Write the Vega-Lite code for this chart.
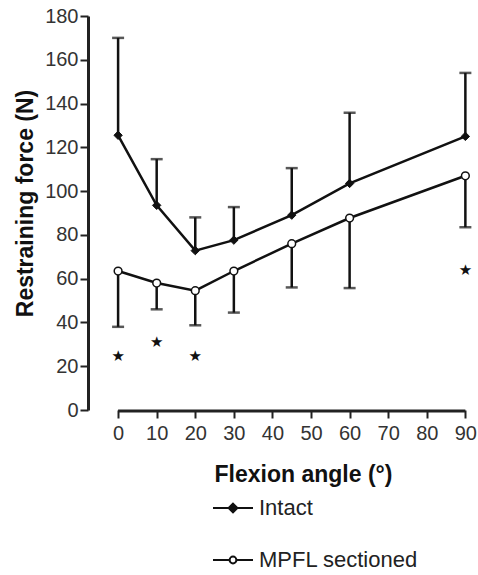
{
  "$schema": "https://vega.github.io/schema/vega-lite/v6.json",
  "autosize": "none",
  "width": 382,
  "height": 394,
  "padding": {"left": 88, "top": 16, "right": 8, "bottom": 165},
  "background": "white",
  "config": {
    "view": {"stroke": null},
    "font": "Liberation Sans",
    "axis": {"grid": false, "labelFont": "Liberation Sans", "titleFont": "Liberation Sans", "labelColor": "#333", "titleColor": "#111", "tickColor": "#222", "domainColor": "#222"}
  },
  "datasets": {
    "main": [
      {"series": "Intact", "angle": 0, "mean": 125.5, "err": 170},
      {"series": "Intact", "angle": 10, "mean": 93.5, "err": 114.6},
      {"series": "Intact", "angle": 20, "mean": 72.8, "err": 88},
      {"series": "Intact", "angle": 30, "mean": 77.6, "err": 92.7},
      {"series": "Intact", "angle": 45, "mean": 89, "err": 110.5},
      {"series": "Intact", "angle": 60, "mean": 103.5, "err": 135.8},
      {"series": "Intact", "angle": 90, "mean": 125, "err": 154},
      {"series": "MPFL sectioned", "angle": 0, "mean": 63.5, "err": 38},
      {"series": "MPFL sectioned", "angle": 10, "mean": 58, "err": 46},
      {"series": "MPFL sectioned", "angle": 20, "mean": 54.5, "err": 38.7},
      {"series": "MPFL sectioned", "angle": 30, "mean": 63.5, "err": 44.5},
      {"series": "MPFL sectioned", "angle": 45, "mean": 76, "err": 56},
      {"series": "MPFL sectioned", "angle": 60, "mean": 87.7, "err": 55.7},
      {"series": "MPFL sectioned", "angle": 90, "mean": 107, "err": 83.5}
    ],
    "stars": [
      {"angle": 0, "y": 24.5},
      {"angle": 10, "y": 31},
      {"angle": 20, "y": 24.5},
      {"angle": 90, "y": 64}
    ],
    "base": [{"a": 0, "b": 90}]
  },
  "layer": [
    {
      "data": {"name": "base"},
      "mark": {"type": "rule", "stroke": "#222", "strokeWidth": 3, "yOffset": 1},
      "encoding": {
        "x": {"field": "a", "type": "quantitative", "scale": {"domain": [-7.8, 91.2], "nice": false, "zero": false},
          "axis": {"values": [0, 10, 20, 30, 40, 50, 60, 70, 80, 90], "domain": false, "tickSize": 8, "tickWidth": 2, "labelFontSize": 20, "labelPadding": 5,
            "title": "Flexion angle (°)", "titleFontSize": 23, "titleFontWeight": "bold", "titleX": 215, "titleY": 64, "titleAlign": "center", "titleBaseline": "middle"}},
        "x2": {"field": "b"},
        "y": {"datum": 0, "type": "quantitative"}
      }
    },
    {
      "data": {"name": "main"},
      "mark": {"type": "rule", "stroke": "#111", "strokeWidth": 2.5},
      "encoding": {
        "x": {"field": "angle", "type": "quantitative"},
        "y": {"field": "mean", "type": "quantitative", "scale": {"domain": [0, 180], "nice": false},
          "axis": {"values": [0, 20, 40, 60, 80, 100, 120, 140, 160, 180], "domainWidth": 3, "tickSize": 8, "tickWidth": 2, "labelFontSize": 20, "labelPadding": 2,
            "title": "Restraining force (N)", "titleFontSize": 23, "titleFontWeight": "bold", "titleX": -63, "titleY": 187, "titleAlign": "center", "titleBaseline": "middle", "titleAngle": 270}},
        "y2": {"field": "err"}
      }
    },
    {
      "data": {"name": "main"},
      "mark": {"type": "tick", "orient": "horizontal", "color": "#111", "size": 12, "thickness": 2.5},
      "encoding": {
        "x": {"field": "angle", "type": "quantitative"},
        "y": {"field": "err", "type": "quantitative"}
      }
    },
    {
      "data": {"name": "main"},
      "mark": {"type": "line", "stroke": "#111", "strokeWidth": 2.5},
      "encoding": {
        "x": {"field": "angle", "type": "quantitative"},
        "y": {"field": "mean", "type": "quantitative"},
        "detail": {"field": "series"}
      }
    },
    {
      "data": {"name": "main"},
      "transform": [{"filter": "datum.series == 'Intact'"}],
      "mark": {"type": "point", "shape": "diamond", "filled": true, "fill": "#111", "stroke": "#111", "strokeWidth": 1, "size": 70, "opacity": 1},
      "encoding": {
        "x": {"field": "angle", "type": "quantitative"},
        "y": {"field": "mean", "type": "quantitative"}
      }
    },
    {
      "data": {"name": "main"},
      "transform": [{"filter": "datum.series != 'Intact'"}],
      "mark": {"type": "point", "shape": "circle", "filled": true, "fill": "white", "stroke": "#111", "strokeWidth": 1.5, "size": 60, "opacity": 1},
      "encoding": {
        "x": {"field": "angle", "type": "quantitative"},
        "y": {"field": "mean", "type": "quantitative"}
      }
    },
    {
      "data": {"name": "stars"},
      "mark": {"type": "text", "text": "★", "font": "DejaVu Sans", "fontSize": 15, "color": "#111", "baseline": "middle", "align": "center"},
      "encoding": {
        "x": {"field": "angle", "type": "quantitative"},
        "y": {"field": "y", "type": "quantitative"}
      }
    },
    {
      "data": {"name": "main"},
      "mark": {"type": "point", "filled": true, "opacity": 0, "strokeWidth": 2, "size": 1600},
      "encoding": {
        "x": {"field": "angle", "type": "quantitative"},
        "y": {"field": "mean", "type": "quantitative"},
        "shape": {"field": "series", "type": "nominal", "scale": {"domain": ["Intact", "MPFL sectioned"], "range": ["M-1,0H1M0,-0.22L0.22,0L0,0.22L-0.22,0Z", "M-1,0H-0.17M0.17,0H1M0.17,0A0.17,0.17 0 1,1 -0.17,0A0.17,0.17 0 1,1 0.17,0Z"]},
          "legend": {"orient": "none", "legendX": 124, "legendY": 471, "direction": "vertical", "title": null, "padding": 0, "rowPadding": 20,
            "symbolSize": 1600, "symbolOpacity": 1, "symbolStrokeColor": "#111", "symbolStrokeWidth": 2, "labelFontSize": 22, "labelColor": "#222", "labelOffset": 5, "labelFont": "Liberation Sans"}},
        "fill": {"field": "series", "type": "nominal", "scale": {"domain": ["Intact", "MPFL sectioned"], "range": ["#111", "#ffffff"]}},
        "stroke": {"field": "series", "type": "nominal", "scale": {"domain": ["Intact", "MPFL sectioned"], "range": ["#111", "#111"]}}
      }
    }
  ]
}
